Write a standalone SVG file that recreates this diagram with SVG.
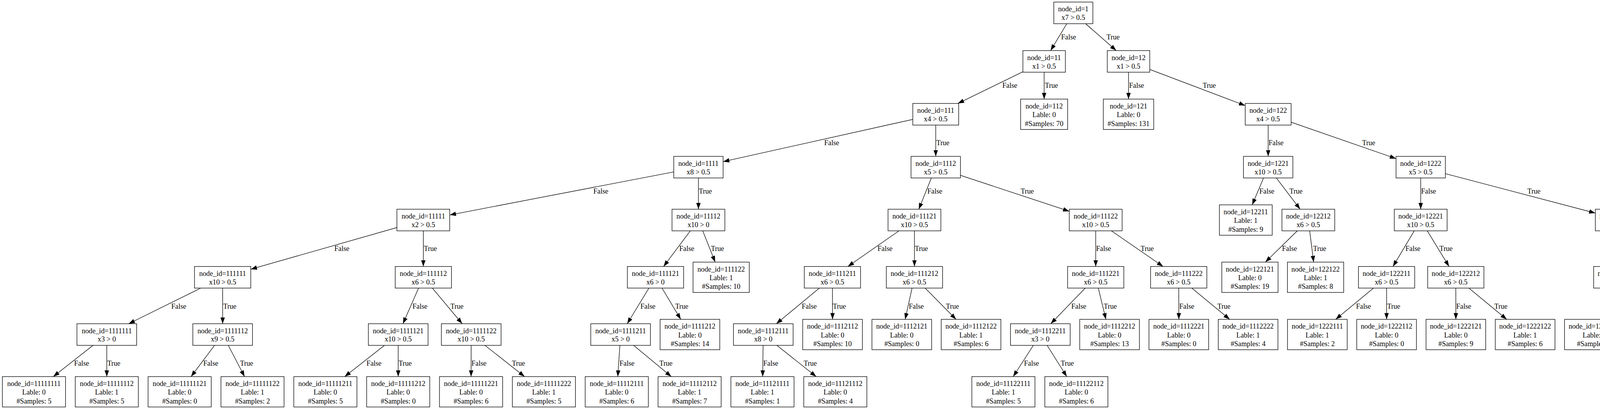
<svg xmlns="http://www.w3.org/2000/svg" width="4695" height="1048" viewBox="0 0 4695 1048">
<style>
text{font-family:"Liberation Serif","Times New Roman",serif;font-size:18.2px;fill:#000}
.n rect{fill:#fff;stroke:#000;stroke-width:1.33}
.n text{text-anchor:middle}
#edges line{stroke:#000;stroke-width:1.33;marker-end:url(#arr)}
#edges text{text-anchor:start}
</style>
<defs>
<marker id="arr" markerUnits="userSpaceOnUse" markerWidth="16" markerHeight="12" viewBox="0 0 13.3 9.33" refX="13.3" refY="4.67" orient="auto"><path d="M0,0L13.3,4.67L0,9.33z" fill="#000"/></marker>
</defs>
<rect width="4695" height="1048" fill="#fff"/>
<g id="edges">
<line x1="2747.7" y1="33" x2="2689.6" y2="129.6"/><text x="2716.5" y="101">False</text>
<line x1="2747.7" y1="33" x2="2857.5" y2="129.6"/><text x="2832.7" y="101">True</text>
<line x1="2673" y1="157.3" x2="2452.2" y2="265.1"/><text x="2566" y="225.3">False</text>
<line x1="2673" y1="157.3" x2="2673" y2="253.9"/><text x="2675" y="225.3">True</text>
<line x1="2889" y1="157.3" x2="2889" y2="253.9"/><text x="2890.5" y="225.3">False</text>
<line x1="2889" y1="157.3" x2="3187.7" y2="270.5"/><text x="3079" y="225.3">True</text>
<line x1="2395.5" y1="292.8" x2="1851.2" y2="414.2"/><text x="2110" y="372">False</text>
<line x1="2395.5" y1="292.8" x2="2395.5" y2="400.6"/><text x="2397" y="372">True</text>
<line x1="3246.5" y1="292.8" x2="3246.5" y2="400.6"/><text x="3247.5" y="372">False</text>
<line x1="3246.5" y1="292.8" x2="3573.8" y2="406.4"/><text x="3487" y="372">True</text>
<line x1="1788" y1="428.3" x2="1151.3" y2="550.8"/><text x="1519" y="496.3">False</text>
<line x1="1788" y1="428.3" x2="1788" y2="536.1"/><text x="1789" y="496.3">True</text>
<line x1="2395.5" y1="428.3" x2="2352.1" y2="536.1"/><text x="2374" y="496.3">False</text>
<line x1="2395.5" y1="428.3" x2="2737.4" y2="541.4"/><text x="2613" y="496.3">True</text>
<line x1="3246.5" y1="428.3" x2="3205.6" y2="524.9"/><text x="3224" y="496.3">False</text>
<line x1="3246.5" y1="428.3" x2="3328.3" y2="536.1"/><text x="3301" y="496.3">True</text>
<line x1="3637" y1="428.3" x2="3637" y2="536.1"/><text x="3638" y="496.3">False</text>
<line x1="3637" y1="428.3" x2="4084.1" y2="546"/><text x="3910" y="496.3">True</text>
<line x1="1083.7" y1="563.8" x2="641.9" y2="689.9"/><text x="856" y="643">False</text>
<line x1="1083.7" y1="563.8" x2="1083.7" y2="682.8"/><text x="1085" y="643">True</text>
<line x1="1788" y1="563.8" x2="1698.8" y2="682.8"/><text x="1739" y="643">False</text>
<line x1="1788" y1="563.8" x2="1830.8" y2="671.6"/><text x="1820" y="643">True</text>
<line x1="2341" y1="563.8" x2="2170.6" y2="682.8"/><text x="2246.5" y="643">False</text>
<line x1="2341" y1="563.8" x2="2341" y2="682.8"/><text x="2342" y="643">True</text>
<line x1="2805" y1="563.8" x2="2805" y2="682.8"/><text x="2806" y="643">False</text>
<line x1="2805" y1="563.8" x2="2977.4" y2="682.8"/><text x="2920" y="643">True</text>
<line x1="3349.3" y1="563.8" x2="3239.4" y2="671.6"/><text x="3282" y="643">False</text>
<line x1="3349.3" y1="563.8" x2="3362.9" y2="671.6"/><text x="3361.5" y="643">True</text>
<line x1="3637" y1="563.8" x2="3566" y2="682.8"/><text x="3598" y="643">False</text>
<line x1="3637" y1="563.8" x2="3709.6" y2="682.8"/><text x="3685" y="643">True</text>
<line x1="4151.7" y1="563.8" x2="4151.7" y2="682.8"/><text x="4153" y="643">False</text>
<line x1="4151.7" y1="563.8" x2="4382.3" y2="682.8"/><text x="4311" y="643">True</text>
<line x1="569.9" y1="710.5" x2="329.4" y2="829.5"/><text x="438.5" y="790.5">False</text>
<line x1="569.9" y1="710.5" x2="570" y2="829.5"/><text x="571.5" y="790.5">True</text>
<line x1="1083.7" y1="710.5" x2="1031.5" y2="829.5"/><text x="1056" y="790.5">False</text>
<line x1="1083.7" y1="710.5" x2="1183.2" y2="829.5"/><text x="1153" y="790.5">True</text>
<line x1="1678.1" y1="710.5" x2="1605.7" y2="829.5"/><text x="1639.5" y="790.5">False</text>
<line x1="1678.1" y1="710.5" x2="1742.8" y2="818.3"/><text x="1728.5" y="790.5">True</text>
<line x1="2131" y1="710.5" x2="1987.4" y2="829.5"/><text x="2052.5" y="790.5">False</text>
<line x1="2131" y1="710.5" x2="2131.3" y2="818.3"/><text x="2132" y="790.5">True</text>
<line x1="2341" y1="710.5" x2="2317.2" y2="818.3"/><text x="2326.5" y="790.5">False</text>
<line x1="2341" y1="710.5" x2="2447.5" y2="818.3"/><text x="2421.5" y="790.5">True</text>
<line x1="2805" y1="710.5" x2="2690" y2="829.5"/><text x="2742.5" y="790.5">False</text>
<line x1="2805" y1="710.5" x2="2831.1" y2="818.3"/><text x="2825.5" y="790.5">True</text>
<line x1="3017.5" y1="710.5" x2="3017.8" y2="818.3"/><text x="3019" y="790.5">False</text>
<line x1="3017.5" y1="710.5" x2="3148" y2="818.3"/><text x="3116.5" y="790.5">True</text>
<line x1="3549.6" y1="710.5" x2="3419.4" y2="818.3"/><text x="3471.5" y="790.5">False</text>
<line x1="3549.6" y1="710.5" x2="3549.7" y2="818.3"/><text x="3551" y="790.5">True</text>
<line x1="3726.8" y1="710.5" x2="3727" y2="818.3"/><text x="3728" y="790.5">False</text>
<line x1="3726.8" y1="710.5" x2="3857.2" y2="818.3"/><text x="3825.5" y="790.5">True</text>
<line x1="4151.7" y1="710.5" x2="4100.2" y2="818.3"/><text x="4120" y="790.5">False</text>
<line x1="4151.7" y1="710.5" x2="4230.5" y2="818.3"/><text x="4211.5" y="790.5">True</text>
<line x1="4436.2" y1="710.5" x2="4436.2" y2="818.3"/><text x="4437" y="790.5">False</text>
<line x1="4436.2" y1="710.5" x2="4566.4" y2="818.3"/><text x="4535.5" y="790.5">True</text>
<line x1="273.4" y1="857.2" x2="136.4" y2="965"/><text x="189.8" y="936.5">False</text>
<line x1="273.4" y1="857.2" x2="273.4" y2="965"/><text x="274.5" y="936.5">True</text>
<line x1="570" y1="857.2" x2="489.1" y2="965"/><text x="520.4" y="936.5">False</text>
<line x1="570" y1="857.2" x2="626.1" y2="965"/><text x="614.5" y="936.5">True</text>
<line x1="1019.4" y1="857.2" x2="882.4" y2="965"/><text x="938.3" y="936.5">False</text>
<line x1="1019.4" y1="857.2" x2="1019.4" y2="965"/><text x="1020.5" y="936.5">True</text>
<line x1="1206.3" y1="857.2" x2="1206" y2="965"/><text x="1207" y="936.5">False</text>
<line x1="1206.3" y1="857.2" x2="1343" y2="965"/><text x="1310.5" y="936.5">True</text>
<line x1="1588.8" y1="857.2" x2="1581.5" y2="965"/><text x="1586" y="936.5">False</text>
<line x1="1588.8" y1="857.2" x2="1718.6" y2="965"/><text x="1688" y="936.5">True</text>
<line x1="1954" y1="857.2" x2="1952.4" y2="965"/><text x="1954" y="936.5">False</text>
<line x1="1954" y1="857.2" x2="2089.5" y2="965"/><text x="2057.5" y="936.5">True</text>
<line x1="2663.2" y1="857.2" x2="2593.8" y2="965"/><text x="2621.5" y="936.5">False</text>
<line x1="2663.2" y1="857.2" x2="2731" y2="965"/><text x="2715.5" y="936.5">True</text>
</g>
<g id="nodes">
<g id="n1" class="n" transform="translate(2747.7,33)"><rect x="-50" y="-27.7" width="100" height="55.4"/><text y="-3.7">node_id=1</text><text y="18.3">x7 &gt; 0.5</text></g>
<g id="n11" class="n" transform="translate(2673,157.3)"><rect x="-54.4" y="-27.7" width="108.8" height="55.4"/><text y="-3.7">node_id=11</text><text y="18.3">x1 &gt; 0.5</text></g>
<g id="n12" class="n" transform="translate(2889,157.3)"><rect x="-54.4" y="-27.7" width="108.8" height="55.4"/><text y="-3.7">node_id=12</text><text y="18.3">x1 &gt; 0.5</text></g>
<g id="n111" class="n" transform="translate(2395.5,292.8)"><rect x="-58.8" y="-27.7" width="117.6" height="55.4"/><text y="-3.7">node_id=111</text><text y="18.3">x4 &gt; 0.5</text></g>
<g id="n112" class="n" transform="translate(2673,292.8)"><rect x="-60.2" y="-38.9" width="120.4" height="77.8"/><text y="-14.9">node_id=112</text><text y="7.5">Lable: 0</text><text y="29.9">#Samples: 70</text></g>
<g id="n121" class="n" transform="translate(2889,292.8)"><rect x="-64.5" y="-38.9" width="129" height="77.8"/><text y="-14.9">node_id=121</text><text y="7.5">Lable: 0</text><text y="29.9">#Samples: 131</text></g>
<g id="n122" class="n" transform="translate(3246.5,292.8)"><rect x="-58.8" y="-27.7" width="117.6" height="55.4"/><text y="-3.7">node_id=122</text><text y="18.3">x4 &gt; 0.5</text></g>
<g id="n1111" class="n" transform="translate(1788,428.3)"><rect x="-63.2" y="-27.7" width="126.4" height="55.4"/><text y="-3.7">node_id=1111</text><text y="18.3">x8 &gt; 0.5</text></g>
<g id="n1112" class="n" transform="translate(2395.5,428.3)"><rect x="-63.2" y="-27.7" width="126.4" height="55.4"/><text y="-3.7">node_id=1112</text><text y="18.3">x5 &gt; 0.5</text></g>
<g id="n1221" class="n" transform="translate(3246.5,428.3)"><rect x="-63.2" y="-27.7" width="126.4" height="55.4"/><text y="-3.7">node_id=1221</text><text y="18.3">x10 &gt; 0.5</text></g>
<g id="n1222" class="n" transform="translate(3637,428.3)"><rect x="-63.2" y="-27.7" width="126.4" height="55.4"/><text y="-3.7">node_id=1222</text><text y="18.3">x5 &gt; 0.5</text></g>
<g id="n11111" class="n" transform="translate(1083.7,563.8)"><rect x="-67.6" y="-27.7" width="135.2" height="55.4"/><text y="-3.7">node_id=11111</text><text y="18.3">x2 &gt; 0.5</text></g>
<g id="n11112" class="n" transform="translate(1788,563.8)"><rect x="-67.6" y="-27.7" width="135.2" height="55.4"/><text y="-3.7">node_id=11112</text><text y="18.3">x10 &gt; 0</text></g>
<g id="n11121" class="n" transform="translate(2341,563.8)"><rect x="-67.6" y="-27.7" width="135.2" height="55.4"/><text y="-3.7">node_id=11121</text><text y="18.3">x10 &gt; 0.5</text></g>
<g id="n11122" class="n" transform="translate(2805,563.8)"><rect x="-67.6" y="-27.7" width="135.2" height="55.4"/><text y="-3.7">node_id=11122</text><text y="18.3">x10 &gt; 0.5</text></g>
<g id="n12211" class="n" transform="translate(3189.2,563.8)"><rect x="-67.6" y="-38.9" width="135.2" height="77.8"/><text y="-14.9">node_id=12211</text><text y="7.5">Lable: 1</text><text y="29.9">#Samples: 9</text></g>
<g id="n12212" class="n" transform="translate(3349.3,563.8)"><rect x="-67.6" y="-27.7" width="135.2" height="55.4"/><text y="-3.7">node_id=12212</text><text y="18.3">x6 &gt; 0.5</text></g>
<g id="n12221" class="n" transform="translate(3637,563.8)"><rect x="-67.6" y="-27.7" width="135.2" height="55.4"/><text y="-3.7">node_id=12221</text><text y="18.3">x10 &gt; 0.5</text></g>
<g id="n12222" class="n" transform="translate(4151.7,563.8)"><rect x="-67.6" y="-27.7" width="135.2" height="55.4"/><text y="-3.7">node_id=12222</text><text y="18.3">x10 &gt; 0.5</text></g>
<g id="n111111" class="n" transform="translate(569.9,710.5)"><rect x="-72" y="-27.7" width="144" height="55.4"/><text y="-3.7">node_id=111111</text><text y="18.3">x10 &gt; 0.5</text></g>
<g id="n111112" class="n" transform="translate(1083.7,710.5)"><rect x="-72" y="-27.7" width="144" height="55.4"/><text y="-3.7">node_id=111112</text><text y="18.3">x6 &gt; 0.5</text></g>
<g id="n111121" class="n" transform="translate(1678.1,710.5)"><rect x="-72" y="-27.7" width="144" height="55.4"/><text y="-3.7">node_id=111121</text><text y="18.3">x6 &gt; 0</text></g>
<g id="n111122" class="n" transform="translate(1846.2,710.5)"><rect x="-72" y="-38.9" width="144" height="77.8"/><text y="-14.9">node_id=111122</text><text y="7.5">Lable: 1</text><text y="29.9">#Samples: 10</text></g>
<g id="n111211" class="n" transform="translate(2131,710.5)"><rect x="-72" y="-27.7" width="144" height="55.4"/><text y="-3.7">node_id=111211</text><text y="18.3">x6 &gt; 0.5</text></g>
<g id="n111212" class="n" transform="translate(2341,710.5)"><rect x="-72" y="-27.7" width="144" height="55.4"/><text y="-3.7">node_id=111212</text><text y="18.3">x6 &gt; 0.5</text></g>
<g id="n111221" class="n" transform="translate(2805,710.5)"><rect x="-72" y="-27.7" width="144" height="55.4"/><text y="-3.7">node_id=111221</text><text y="18.3">x6 &gt; 0.5</text></g>
<g id="n111222" class="n" transform="translate(3017.5,710.5)"><rect x="-72" y="-27.7" width="144" height="55.4"/><text y="-3.7">node_id=111222</text><text y="18.3">x6 &gt; 0.5</text></g>
<g id="n122121" class="n" transform="translate(3199.8,710.5)"><rect x="-72" y="-38.9" width="144" height="77.8"/><text y="-14.9">node_id=122121</text><text y="7.5">Lable: 0</text><text y="29.9">#Samples: 19</text></g>
<g id="n122122" class="n" transform="translate(3367.8,710.5)"><rect x="-72" y="-38.9" width="144" height="77.8"/><text y="-14.9">node_id=122122</text><text y="7.5">Lable: 1</text><text y="29.9">#Samples: 8</text></g>
<g id="n122211" class="n" transform="translate(3549.6,710.5)"><rect x="-72" y="-27.7" width="144" height="55.4"/><text y="-3.7">node_id=122211</text><text y="18.3">x6 &gt; 0.5</text></g>
<g id="n122212" class="n" transform="translate(3726.8,710.5)"><rect x="-72" y="-27.7" width="144" height="55.4"/><text y="-3.7">node_id=122212</text><text y="18.3">x6 &gt; 0.5</text></g>
<g id="n122221" class="n" transform="translate(4151.7,710.5)"><rect x="-72" y="-27.7" width="144" height="55.4"/><text y="-3.7">node_id=122221</text><text y="18.3">x2 &gt; 0.5</text></g>
<g id="n122222" class="n" transform="translate(4436.2,710.5)"><rect x="-72" y="-27.7" width="144" height="55.4"/><text y="-3.7">node_id=122222</text><text y="18.3">x6 &gt; 0.5</text></g>
<g id="n1111111" class="n" transform="translate(273.4,857.2)"><rect x="-76.4" y="-27.7" width="152.8" height="55.4"/><text y="-3.7">node_id=1111111</text><text y="18.3">x3 &gt; 0</text></g>
<g id="n1111112" class="n" transform="translate(570,857.2)"><rect x="-76.4" y="-27.7" width="152.8" height="55.4"/><text y="-3.7">node_id=1111112</text><text y="18.3">x9 &gt; 0.5</text></g>
<g id="n1111121" class="n" transform="translate(1019.4,857.2)"><rect x="-76.4" y="-27.7" width="152.8" height="55.4"/><text y="-3.7">node_id=1111121</text><text y="18.3">x10 &gt; 0.5</text></g>
<g id="n1111122" class="n" transform="translate(1206.3,857.2)"><rect x="-76.4" y="-27.7" width="152.8" height="55.4"/><text y="-3.7">node_id=1111122</text><text y="18.3">x10 &gt; 0.5</text></g>
<g id="n1111211" class="n" transform="translate(1588.8,857.2)"><rect x="-76.4" y="-27.7" width="152.8" height="55.4"/><text y="-3.7">node_id=1111211</text><text y="18.3">x5 &gt; 0</text></g>
<g id="n1111212" class="n" transform="translate(1766.2,857.2)"><rect x="-76.4" y="-38.9" width="152.8" height="77.8"/><text y="-14.9">node_id=1111212</text><text y="7.5">Lable: 0</text><text y="29.9">#Samples: 14</text></g>
<g id="n1112111" class="n" transform="translate(1954,857.2)"><rect x="-76.4" y="-27.7" width="152.8" height="55.4"/><text y="-3.7">node_id=1112111</text><text y="18.3">x8 &gt; 0</text></g>
<g id="n1112112" class="n" transform="translate(2131.3,857.2)"><rect x="-76.4" y="-38.9" width="152.8" height="77.8"/><text y="-14.9">node_id=1112112</text><text y="7.5">Lable: 0</text><text y="29.9">#Samples: 10</text></g>
<g id="n1112121" class="n" transform="translate(2308.6,857.2)"><rect x="-76.4" y="-38.9" width="152.8" height="77.8"/><text y="-14.9">node_id=1112121</text><text y="7.5">Lable: 0</text><text y="29.9">#Samples: 0</text></g>
<g id="n1112122" class="n" transform="translate(2485.9,857.2)"><rect x="-76.4" y="-38.9" width="152.8" height="77.8"/><text y="-14.9">node_id=1112122</text><text y="7.5">Lable: 1</text><text y="29.9">#Samples: 6</text></g>
<g id="n1112211" class="n" transform="translate(2663.2,857.2)"><rect x="-76.4" y="-27.7" width="152.8" height="55.4"/><text y="-3.7">node_id=1112211</text><text y="18.3">x3 &gt; 0</text></g>
<g id="n1112212" class="n" transform="translate(2840.5,857.2)"><rect x="-76.4" y="-38.9" width="152.8" height="77.8"/><text y="-14.9">node_id=1112212</text><text y="7.5">Lable: 0</text><text y="29.9">#Samples: 13</text></g>
<g id="n1112221" class="n" transform="translate(3017.8,857.2)"><rect x="-76.4" y="-38.9" width="152.8" height="77.8"/><text y="-14.9">node_id=1112221</text><text y="7.5">Lable: 0</text><text y="29.9">#Samples: 0</text></g>
<g id="n1112222" class="n" transform="translate(3195.1,857.2)"><rect x="-76.4" y="-38.9" width="152.8" height="77.8"/><text y="-14.9">node_id=1112222</text><text y="7.5">Lable: 1</text><text y="29.9">#Samples: 4</text></g>
<g id="n1222111" class="n" transform="translate(3372.4,857.2)"><rect x="-76.4" y="-38.9" width="152.8" height="77.8"/><text y="-14.9">node_id=1222111</text><text y="7.5">Lable: 1</text><text y="29.9">#Samples: 2</text></g>
<g id="n1222112" class="n" transform="translate(3549.7,857.2)"><rect x="-76.4" y="-38.9" width="152.8" height="77.8"/><text y="-14.9">node_id=1222112</text><text y="7.5">Lable: 0</text><text y="29.9">#Samples: 0</text></g>
<g id="n1222121" class="n" transform="translate(3727,857.2)"><rect x="-76.4" y="-38.9" width="152.8" height="77.8"/><text y="-14.9">node_id=1222121</text><text y="7.5">Lable: 0</text><text y="29.9">#Samples: 9</text></g>
<g id="n1222122" class="n" transform="translate(3904.3,857.2)"><rect x="-76.4" y="-38.9" width="152.8" height="77.8"/><text y="-14.9">node_id=1222122</text><text y="7.5">Lable: 1</text><text y="29.9">#Samples: 6</text></g>
<g id="n1222211" class="n" transform="translate(4081.6,857.2)"><rect x="-76.4" y="-38.9" width="152.8" height="77.8"/><text y="-14.9">node_id=1222211</text><text y="7.5">Lable: 1</text><text y="29.9">#Samples: 4</text></g>
<g id="n1222212" class="n" transform="translate(4258.9,857.2)"><rect x="-76.4" y="-38.9" width="152.8" height="77.8"/><text y="-14.9">node_id=1222212</text><text y="7.5">Lable: 1</text><text y="29.9">#Samples: 2</text></g>
<g id="n1222221" class="n" transform="translate(4436.2,857.2)"><rect x="-76.4" y="-38.9" width="152.8" height="77.8"/><text y="-14.9">node_id=1222221</text><text y="7.5">Lable: 0</text><text y="29.9">#Samples: 6</text></g>
<g id="n1222222" class="n" transform="translate(4613.5,857.2)"><rect x="-76.4" y="-38.9" width="152.8" height="77.8"/><text y="-14.9">node_id=1222222</text><text y="7.5">Lable: 1</text><text y="29.9">#Samples: 5</text></g>
<g id="n11111111" class="n" transform="translate(86.9,1003.9)"><rect x="-80.8" y="-38.9" width="161.6" height="77.8"/><text y="-14.9">node_id=11111111</text><text y="7.5">Lable: 0</text><text y="29.9">#Samples: 5</text></g>
<g id="n11111112" class="n" transform="translate(273.4,1003.9)"><rect x="-80.8" y="-38.9" width="161.6" height="77.8"/><text y="-14.9">node_id=11111112</text><text y="7.5">Lable: 1</text><text y="29.9">#Samples: 5</text></g>
<g id="n11111121" class="n" transform="translate(459.9,1003.9)"><rect x="-80.8" y="-38.9" width="161.6" height="77.8"/><text y="-14.9">node_id=11111121</text><text y="7.5">Lable: 0</text><text y="29.9">#Samples: 0</text></g>
<g id="n11111122" class="n" transform="translate(646.4,1003.9)"><rect x="-80.8" y="-38.9" width="161.6" height="77.8"/><text y="-14.9">node_id=11111122</text><text y="7.5">Lable: 1</text><text y="29.9">#Samples: 2</text></g>
<g id="n11111211" class="n" transform="translate(832.9,1003.9)"><rect x="-80.8" y="-38.9" width="161.6" height="77.8"/><text y="-14.9">node_id=11111211</text><text y="7.5">Lable: 0</text><text y="29.9">#Samples: 5</text></g>
<g id="n11111212" class="n" transform="translate(1019.4,1003.9)"><rect x="-80.8" y="-38.9" width="161.6" height="77.8"/><text y="-14.9">node_id=11111212</text><text y="7.5">Lable: 0</text><text y="29.9">#Samples: 0</text></g>
<g id="n11111221" class="n" transform="translate(1205.9,1003.9)"><rect x="-80.8" y="-38.9" width="161.6" height="77.8"/><text y="-14.9">node_id=11111221</text><text y="7.5">Lable: 0</text><text y="29.9">#Samples: 6</text></g>
<g id="n11111222" class="n" transform="translate(1392.4,1003.9)"><rect x="-80.8" y="-38.9" width="161.6" height="77.8"/><text y="-14.9">node_id=11111222</text><text y="7.5">Lable: 1</text><text y="29.9">#Samples: 5</text></g>
<g id="n11112111" class="n" transform="translate(1578.9,1003.9)"><rect x="-80.8" y="-38.9" width="161.6" height="77.8"/><text y="-14.9">node_id=11112111</text><text y="7.5">Lable: 0</text><text y="29.9">#Samples: 6</text></g>
<g id="n11112112" class="n" transform="translate(1765.4,1003.9)"><rect x="-80.8" y="-38.9" width="161.6" height="77.8"/><text y="-14.9">node_id=11112112</text><text y="7.5">Lable: 1</text><text y="29.9">#Samples: 7</text></g>
<g id="n11121111" class="n" transform="translate(1951.9,1003.9)"><rect x="-80.8" y="-38.9" width="161.6" height="77.8"/><text y="-14.9">node_id=11121111</text><text y="7.5">Lable: 1</text><text y="29.9">#Samples: 1</text></g>
<g id="n11121112" class="n" transform="translate(2138.4,1003.9)"><rect x="-80.8" y="-38.9" width="161.6" height="77.8"/><text y="-14.9">node_id=11121112</text><text y="7.5">Lable: 0</text><text y="29.9">#Samples: 4</text></g>
<g id="n11122111" class="n" transform="translate(2568.7,1003.9)"><rect x="-80.8" y="-38.9" width="161.6" height="77.8"/><text y="-14.9">node_id=11122111</text><text y="7.5">Lable: 1</text><text y="29.9">#Samples: 5</text></g>
<g id="n11122112" class="n" transform="translate(2755.5,1003.9)"><rect x="-80.8" y="-38.9" width="161.6" height="77.8"/><text y="-14.9">node_id=11122112</text><text y="7.5">Lable: 0</text><text y="29.9">#Samples: 6</text></g>
</g>
</svg>
